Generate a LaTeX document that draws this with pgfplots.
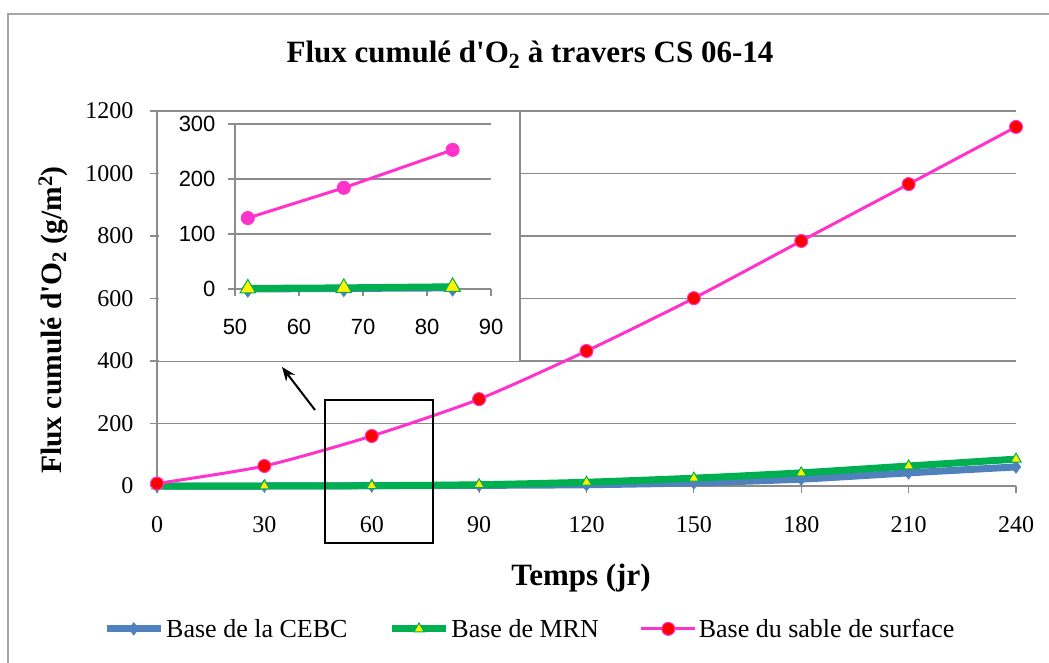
\documentclass[border=0pt]{standalone}
\usepackage{pgfplots}
\pgfplotsset{compat=1.18}
\usepackage{fontspec}
\setmainfont{Liberation Serif}
\newfontfamily\insetfont{Liberation Sans}
\usetikzlibrary{arrows.meta}

\definecolor{cebc}{HTML}{4F81BD}
\definecolor{mrn}{HTML}{00B050}
\definecolor{sable}{HTML}{FF33CC}
\definecolor{gridgray}{HTML}{8C8C8C}

\pgfplotsset{
  excel/.style={
    scale only axis, clip=false,
    axis x line*=bottom, axis y line*=left,
    axis line style={-, gridgray, line width=1.2pt},
    ymajorgrids, grid style={gridgray, line width=1.2pt},
    tick align=outside, major tick length=7pt,
    tick style={gridgray, line width=1.2pt},
    /pgf/number format/assume math mode=true,
    /pgf/number format/1000 sep={},
  },
  excellegend/.style={
    legend image code/.code={
      \draw[mark repeat=2, mark phase=2, ##1] plot coordinates {(0pt,0pt) (27pt,0pt) (54pt,0pt)};
    }
  }
}

\begin{document}
\begin{tikzpicture}[x=1pt,y=1pt]
\path[use as bounding box] (0,0) rectangle (1049,663);
\draw[gray!70, line width=2pt] (8,-5) -- (8,649) -- (1060,649);

\begin{axis}[excel,
  at={(157pt,177pt)}, anchor=south west,
  width=859pt, height=375pt,
  xmin=0, xmax=240, ymin=0, ymax=1200,
  xtick={0,30,...,240}, ytick={0,200,...,1200},
  ticklabel style={font=\fontsize{24}{27}\selectfont},
  xticklabel style={yshift=-20pt},
  yticklabel style={xshift=-13pt},
  excellegend,
  legend columns=3,
  legend style={at={(0.434,-0.381)}, anchor=center, draw=none,
    font=\fontsize{26}{29}\selectfont,
    /tikz/every even column/.append style={column sep=39pt}},
]
\addplot[cebc, line width=7pt, smooth, tension=0.4, mark=diamond*, mark size=6pt,
  mark options={fill=cebc, draw=cebc, line width=1pt}]
  coordinates {(0,0) (30,0) (60,1) (90,2) (120,4) (150,10) (180,22) (210,42) (240,61)};
\addlegendentry{Base de la CEBC}
\addplot[mrn, line width=7pt, smooth, tension=0.4, mark=triangle*, mark size=6pt,
  mark options={fill=yellow, draw=mrn, line width=1pt}]
  coordinates {(0,0) (30,0) (60,1) (90,4) (120,12) (150,25) (180,42) (210,64) (240,86)};
\addlegendentry{Base de MRN}
\addplot[sable, line width=3pt, smooth, tension=0.4, mark=*, mark size=6.5pt,
  mark options={fill=red, draw=sable, line width=1pt}]
  coordinates {(0,8) (30,64) (60,160) (90,278) (120,432) (150,601) (180,784) (210,966) (240,1149)};
\addlegendentry{Base du sable de surface}
\end{axis}

\fill[white] (158.5,302) rectangle (520,550.5);
\draw[gridgray, line width=1.2pt] (520,302) -- (520,550.5);

\begin{axis}[excel,
  at={(235pt,374pt)}, anchor=south west,
  width=256pt, height=165pt,
  xmin=50, xmax=90, ymin=0, ymax=300,
  xtick={50,60,...,90}, ytick={0,100,200,300},
  ticklabel style={font=\insetfont\fontsize{22}{25}\selectfont},
  xticklabel style={yshift=-20pt},
  yticklabel style={xshift=-9pt},
]
\addplot[cebc, line width=7pt, mark=diamond*, mark size=8pt,
  mark options={fill=cebc, draw=cebc, line width=1pt}]
  coordinates {(52,0) (67,1) (84,2)};
\addplot[mrn, line width=7pt, mark=triangle*, mark size=9pt,
  mark options={fill=yellow, draw=mrn, line width=1pt}]
  coordinates {(52,1) (67,2) (84,4)};
\addplot[sable, line width=3pt, mark=*, mark size=6.5pt,
  mark options={fill=sable, draw=sable, line width=1pt}]
  coordinates {(52,129) (67,184) (84,253)};
\end{axis}

\draw[black, line width=1.5pt] (325,263) rectangle (433,120);
\draw[black, line width=2pt, -{Stealth[length=14pt, width=11pt]}] (315,253) -- (282,296);

\node[font=\bfseries\fontsize{31}{34}\selectfont] at (530,608)
  {Flux cumulé d\textquotesingle O\textsubscript{2} à travers CS 06-14};
\node[font=\bfseries\fontsize{31}{34}\selectfont] at (581,85) {Temps (jr)};
\node[font=\bfseries\fontsize{29.5}{32}\selectfont, rotate=90] at (53,343)
  {Flux cumulé d\textquotesingle O\textsubscript{2} (g/m\textsuperscript{2})};
\end{tikzpicture}
\end{document}
